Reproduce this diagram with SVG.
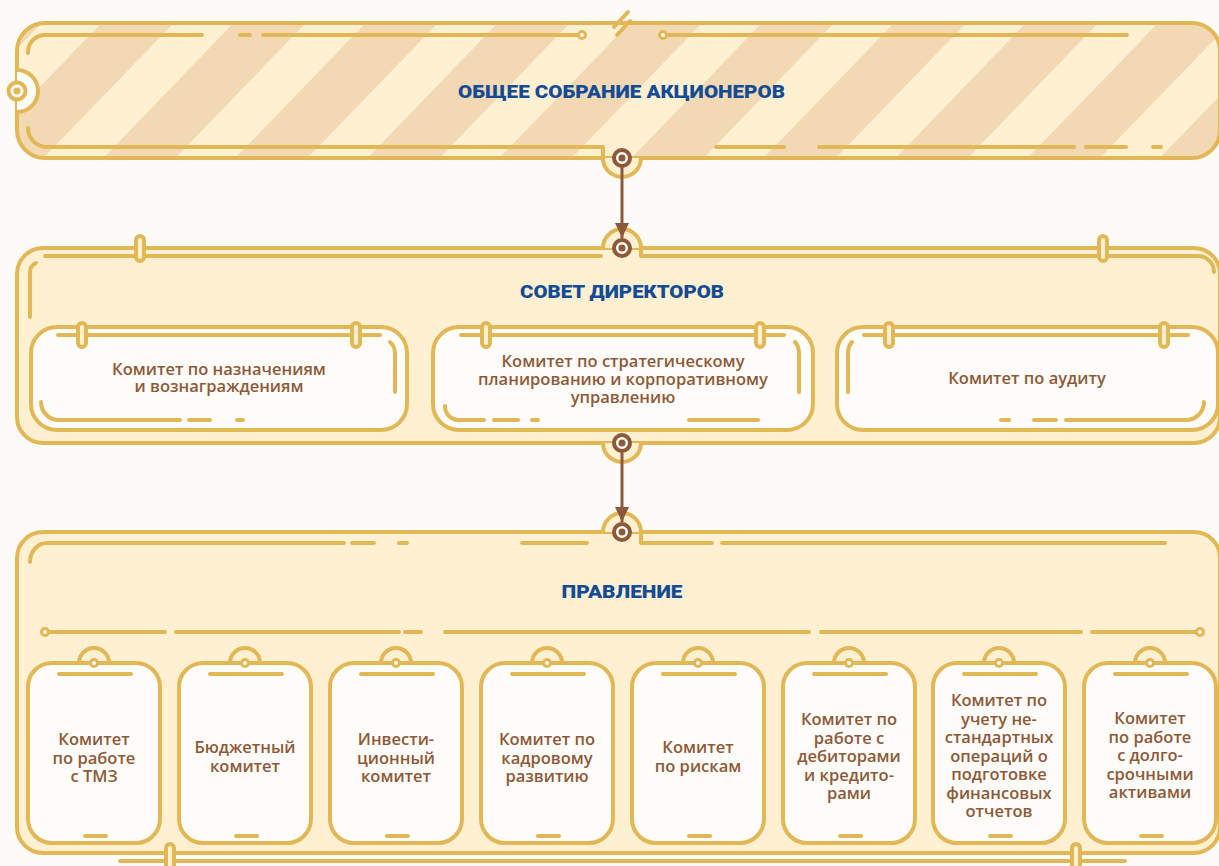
<svg xmlns="http://www.w3.org/2000/svg" width="1219" height="866" viewBox="0 0 1219 866">
<style>
.g{fill:none;stroke:#e2b857;stroke-width:4;stroke-linecap:round;stroke-linejoin:round}
.gf{fill:#fef0d1;stroke:#e2b857;stroke-width:4}
.box{fill:#fefcf8;stroke:#e2b857;stroke-width:4}
.pill{fill:#fef0d1;stroke:#e2b857;stroke-width:4}
.dot{fill:#fefcf8;stroke:#e2b857;stroke-width:3}
.h{font-family:Roboto,"Noto Sans",sans-serif;font-weight:900;font-size:18px;fill:#134b94;text-anchor:middle}
.t{font-family:"Open Sans","Noto Sans",sans-serif;font-weight:600;font-size:16.5px;fill:#8c5a3a;text-anchor:middle}
.ring{fill:#fefcf8;stroke:#8c5a3a;stroke-width:4}
.rdot{fill:#8c5a3a}
.arr{stroke:#8c5a3a;stroke-width:3;fill:none}
</style>
<defs>
<pattern id="stripes" patternUnits="userSpaceOnUse" width="95" height="95" patternTransform="rotate(44)">
<rect width="95" height="95" fill="#fef0d1"/>
<rect x="0" width="46" height="95" fill="#f2d9b4"/>
<rect x="89" width="6" height="95" fill="#f2d9b4"/>
</pattern>
<marker id="ah" viewBox="0 0 15 14" refX="15" refY="7" markerWidth="15" markerHeight="14" markerUnits="userSpaceOnUse" orient="auto">
<path d="M0,0 L15,7 L0,14 Z" fill="#8c5a3a"/>
</marker>
</defs>
<rect width="1219" height="866" fill="#fdfbf7"/>

<g id="node-shareholders">
<rect x="17" y="23" width="1203" height="135" rx="28" fill="url(#stripes)" stroke="#e2b857" stroke-width="4"/>
<path class="g" d="M28,53 A17,17 0 0 1 45,35 L202,35 M240,35 L250,35 M263,35 L578,35 M667,35 L1127,35"/>
<circle class="dot" cx="582" cy="35" r="3.5"/>
<circle class="dot" cx="663" cy="35" r="3.5"/>
<path class="g" stroke-width="3" d="M614,27 L628,12 M617,35 L630,21"/>
<path class="g" d="M28,128 A19,19 0 0 0 47,147 L603,147 L603,158 M716,147 L784,147 M819,147 L1074,147 M1086,147 L1126,147 M1153,147 L1161,147"/>
<path d="M17,70 A21,21 0 0 1 17,112" fill="#fefcf8" stroke="#e2b857" stroke-width="4"/>
<circle cx="17" cy="91" r="8.5" fill="#fefcf8" stroke="#e2b857" stroke-width="4"/>
<circle cx="17" cy="91" r="3.5" fill="#e2b857"/>
<text class="h" x="621.5" y="98" textLength="327" lengthAdjust="spacingAndGlyphs">ОБЩЕЕ СОБРАНИЕ АКЦИОНЕРОВ</text>
</g>

<g id="node-board">
<rect class="gf" x="17" y="248" width="1203" height="195" rx="26"/>
<path class="g" d="M45,256 L601,256 M641,248 L641,256 L1198,256 A16,16 0 0 1 1214,272 M30,317 L30,272 A10,10 0 0 1 36,263"/>
<rect class="pill" x="136" y="236" width="8" height="25" rx="4"/>
<rect class="pill" x="1099" y="236" width="8" height="25" rx="4"/>
<text class="h" x="622" y="298" textLength="204" lengthAdjust="spacingAndGlyphs">СОВЕТ ДИРЕКТОРОВ</text>
</g>

<g id="node-nominations">
<rect class="box" x="31" y="327" width="376" height="103" rx="26"/>
<path class="g" d="M58,335 L380,335 M390,342 Q395,346 395,354 L395,392 M41,402 A18,18 0 0 0 59,420 L180,420 M189,420 L210,420 M237,420 L243,420"/>
<rect class="pill" x="78" y="323" width="8" height="24" rx="4"/>
<rect class="pill" x="352" y="323" width="8" height="24" rx="4"/>
<text class="t" x="219" y="375">Комитет по назначениям</text>
<text class="t" x="219" y="392">и вознаграждениям</text>
</g>

<g id="node-strategy">
<rect class="box" x="433" y="327" width="380" height="103" rx="26"/>
<path class="g" d="M461,335 L784,335 M795,342 Q799,346 799,354 L799,392 M445,406 A14,14 0 0 0 461,420 L484,420 M494,420 L518,420 M532,420 L538,420 M689,420 L758,420"/>
<rect class="pill" x="482" y="323" width="8" height="24" rx="4"/>
<rect class="pill" x="756" y="323" width="8" height="24" rx="4"/>
<text class="t" x="623" y="367">Комитет по стратегическому</text>
<text class="t" x="623" y="385">планированию и корпоративному</text>
<text class="t" x="623" y="403">управлению</text>
</g>

<g id="node-audit">
<rect class="box" x="837" y="327" width="381" height="103" rx="26"/>
<path class="g" d="M864,335 L1188,335 M852,342 Q848,346 848,354 L848,392 M1204,402 A18,18 0 0 1 1186,420 L1066,420 M1056,420 L1034,420 M1009,420 L1001,420"/>
<rect class="pill" x="885" y="323" width="8" height="24" rx="4"/>
<rect class="pill" x="1160" y="323" width="8" height="24" rx="4"/>
<text class="t" x="1027" y="384">Комитет по аудиту</text>
</g>

<g id="node-management">
<rect class="gf" x="17" y="532" width="1203" height="321" rx="26"/>
<path class="g" d="M30,562 A17,19 0 0 1 47,543 L344,543 M352,543 L374,543 M399,543 L407,543 M522,543 L587,543 M641,532 L641,543 L712,543 M722,543 L1165,543"/>
<path class="g" d="M49,632 L165,632 M176,632 L399,632 M405,632 L421,632 M445,632 L809,632 M821,632 L1081,632 M1092,632 L1196,632 M120,861 L1125,861"/>
<circle class="dot" cx="45" cy="632" r="3.5"/>
<circle class="dot" cx="1200" cy="632" r="3.5"/>
<rect class="pill" x="166" y="844" width="8" height="26" rx="4"/>
<rect class="pill" x="1072" y="844" width="8" height="26" rx="4"/>
<text class="h" x="622" y="598" textLength="121" lengthAdjust="spacingAndGlyphs">ПРАВЛЕНИЕ</text>
</g>

<g id="node-c1">
<path class="gf" d="M79,663 A15,15 0 0 1 109,663"/>
<rect class="box" x="28" y="663" width="132" height="180" rx="24"/>
<circle class="dot" cx="94" cy="663" r="3.5"/>
<path class="g" d="M59,674 L131,674 M85,836 L106,836"/>
<text class="t"><tspan x="94" y="745">Комитет</tspan><tspan x="94" y="763.5">по работе</tspan><tspan x="94" y="782">с ТМЗ</tspan></text>
</g>
<g id="node-c2">
<path class="gf" d="M230,663 A15,15 0 0 1 260,663"/>
<rect class="box" x="179" y="663" width="132" height="180" rx="24"/>
<circle class="dot" cx="245" cy="663" r="3.5"/>
<path class="g" d="M210,674 L282,674 M236,836 L257,836"/>
<text class="t"><tspan x="245" y="753">Бюджетный</tspan><tspan x="245" y="772">комитет</tspan></text>
</g>
<g id="node-c3">
<path class="gf" d="M381,663 A15,15 0 0 1 411,663"/>
<rect class="box" x="330" y="663" width="132" height="180" rx="24"/>
<circle class="dot" cx="396" cy="663" r="3.5"/>
<path class="g" d="M361,674 L433,674 M387,836 L408,836"/>
<text class="t"><tspan x="396" y="745">Инвести-</tspan><tspan x="396" y="763.5">ционный</tspan><tspan x="396" y="782">комитет</tspan></text>
</g>
<g id="node-c4">
<path class="gf" d="M532,663 A15,15 0 0 1 562,663"/>
<rect class="box" x="481" y="663" width="132" height="180" rx="24"/>
<circle class="dot" cx="547" cy="663" r="3.5"/>
<path class="g" d="M512,674 L584,674 M538,836 L559,836"/>
<text class="t"><tspan x="547" y="745">Комитет по</tspan><tspan x="547" y="763.5">кадровому</tspan><tspan x="547" y="782">развитию</tspan></text>
</g>
<g id="node-c5">
<path class="gf" d="M683,663 A15,15 0 0 1 713,663"/>
<rect class="box" x="632" y="663" width="132" height="180" rx="24"/>
<circle class="dot" cx="698" cy="663" r="3.5"/>
<path class="g" d="M663,674 L735,674 M689,836 L710,836"/>
<text class="t"><tspan x="698" y="753">Комитет</tspan><tspan x="698" y="772">по рискам</tspan></text>
</g>
<g id="node-c6">
<path class="gf" d="M834,663 A15,15 0 0 1 864,663"/>
<rect class="box" x="783" y="663" width="132" height="180" rx="24"/>
<circle class="dot" cx="849" cy="663" r="3.5"/>
<path class="g" d="M814,674 L886,674 M840,836 L861,836"/>
<text class="t"><tspan x="849" y="725">Комитет по</tspan><tspan x="849" y="743.5">работе с</tspan><tspan x="849" y="762">дебиторами</tspan><tspan x="849" y="780.5">и кредито-</tspan><tspan x="849" y="799">рами</tspan></text>
</g>
<g id="node-c7">
<path class="gf" d="M984,663 A15,15 0 0 1 1014,663"/>
<rect class="box" x="933" y="663" width="132" height="180" rx="24"/>
<circle class="dot" cx="999" cy="663" r="3.5"/>
<path class="g" d="M964,674 L1036,674 M990,836 L1011,836"/>
<text class="t"><tspan x="999" y="706">Комитет по</tspan><tspan x="999" y="724.5">учету не-</tspan><tspan x="999" y="743">стандартных</tspan><tspan x="999" y="761.5">операций о</tspan><tspan x="999" y="780">подготовке</tspan><tspan x="999" y="798.5">финансовых</tspan><tspan x="999" y="817">отчетов</tspan></text>
</g>
<g id="node-c8">
<path class="gf" d="M1135,663 A15,15 0 0 1 1165,663"/>
<rect class="box" x="1084" y="663" width="132" height="180" rx="24"/>
<circle class="dot" cx="1150" cy="663" r="3.5"/>
<path class="g" d="M1115,674 L1187,674 M1141,836 L1162,836"/>
<text class="t"><tspan x="1150" y="724">Комитет</tspan><tspan x="1150" y="742.5">по работе</tspan><tspan x="1150" y="761">с долго-</tspan><tspan x="1150" y="779.5">срочными</tspan><tspan x="1150" y="798">активами</tspan></text>
</g>

<g id="connectors">
<path class="gf" d="M603,158 A19,19 0 0 0 641,158"/>
<path class="gf" d="M603,248 A19,19 0 0 1 641,248"/>
<path class="gf" d="M603,443 A19,19 0 0 0 641,443"/>
<path class="gf" d="M603,532 A19,19 0 0 1 641,532"/>
<line class="arr" x1="622" y1="166" x2="622" y2="238" marker-end="url(#ah)"/>
<line class="arr" x1="622" y1="451" x2="622" y2="522" marker-end="url(#ah)"/>
<circle class="ring" cx="622" cy="158" r="8"/><circle class="rdot" cx="622" cy="158" r="3.5"/>
<circle class="ring" cx="622" cy="248" r="8"/><circle class="rdot" cx="622" cy="248" r="3.5"/>
<circle class="ring" cx="622" cy="443" r="8"/><circle class="rdot" cx="622" cy="443" r="3.5"/>
<circle class="ring" cx="622" cy="532" r="8"/><circle class="rdot" cx="622" cy="532" r="3.5"/>
</g>
</svg>
